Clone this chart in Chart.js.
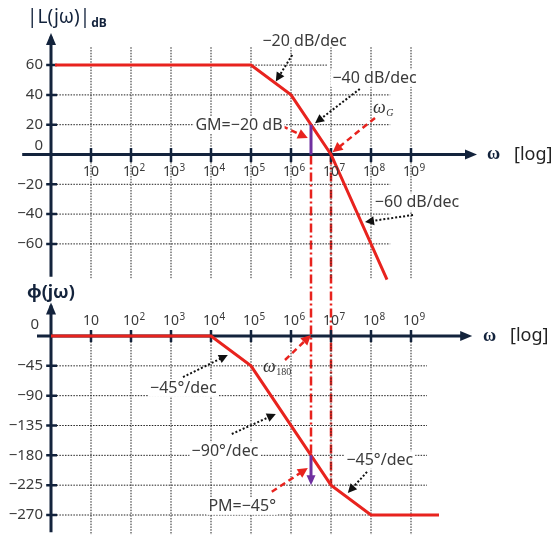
<!DOCTYPE html>
<html>
<head>
<meta charset="utf-8">
<script src="https://cdn.jsdelivr.net/npm/chart.js@4/dist/chart.umd.min.js"></script>
<style>
  html, body { margin: 0; padding: 0; background: #fff; }
  canvas { display: block; }
</style>
</head>
<body>
<canvas id="bode" width="553" height="535"></canvas>
<script>
// ---- frequency decades (log10 ω) and tick labels ----
const decades = [1, 2, 3, 4, 5, 6, 7, 8, 9];
const decadeExponents = ['', '2', '3', '4', '5', '6', '7', '8', '9'];
const magTicks = [60, 40, 20, 0, -20, -40, -60];
const phaseTicks = [0, -45, -90, -135, -180, -225, -270];

// ---- asymptotic magnitude |L(jω)| in dB ----
const magLogW = [0.1, 5, 6, 7, 8.4];
const magDb = [60, 60, 40, 0, -84];

// ---- asymptotic phase φ(jω) in degrees ----
const phaseLogW = [0, 4, 5, 7, 8, 9.7];
const phaseDeg = [0, 0, -45, -225, -270, -270];

// ---- crossover frequencies and stability margins ----
const logW180 = 6.5;       // phase crossover ω180
const logWG = 7;           // gain crossover ωG
const gainMarginDb = -20;
const phaseMarginDeg = -45;

// ---- page geometry: where each scale sits on the canvas ----
const W = 553, H = 535;
const X0 = 51, PX_PER_DEC = 40;
const MAG0 = 154.5, PX_PER_DB = 1.49;
const PH0 = 336, PX_PER_DEG = 0.663;

const NAVY = '#13233c';
const RED = '#e8231e';
const PURPLE = '#7030a0';
const GRID = '#222';
const TEXT = '#3b3b3b';
const FONT = '"Noto Sans", "Liberation Sans", sans-serif';
const SERIF = '"Liberation Serif", "DejaVu Serif", serif';

// turn [x1,y1,x2,y2] segments into one broken polyline
function segs(list) {
  const out = [];
  list.forEach(([x1, y1, x2, y2]) => {
    out.push({x: x1, y: y1}, {x: x2, y: y2}, {x: x2, y: null});
  });
  return out;
}
const zip = (xs, ys) => xs.map((x, i) => ({x, y: ys[i]}));

const magNonZero = magTicks.filter(v => v !== 0);
const phNonZero = phaseTicks.filter(v => v !== 0);

const gridStyle = {borderColor: GRID, borderWidth: 1, borderDash: [1.5, 1.3], pointRadius: 0, spanGaps: false, order: 20};
const axisStyle = {borderColor: NAVY, borderWidth: 3, pointRadius: 0, spanGaps: false, order: 5};

const datasets = [
  // magnitude curve
  {data: zip(magLogW, magDb), yAxisID: 'yMag', borderColor: RED, borderWidth: 3, pointRadius: 0, order: 1},
  // phase curve
  {data: zip(phaseLogW, phaseDeg), yAxisID: 'yPh', borderColor: RED, borderWidth: 3, pointRadius: 0, order: 1},
  // gain margin bar at ω180
  {data: [{x: logW180, y: -gainMarginDb}, {x: logW180, y: 0}], yAxisID: 'yMag', borderColor: PURPLE, borderWidth: 3, pointRadius: 0, order: 0},
  // phase margin arrow at ωG
  {data: [{x: logW180, y: -180}, {x: logW180, y: -180 + phaseMarginDeg + 6}], yAxisID: 'yPh', borderColor: PURPLE, borderWidth: 3, pointRadius: 0, order: 0},

  // grids
  Object.assign({data: segs(decades.map(d => [d, 72, d, -83])), yAxisID: 'yMag'}, gridStyle),
  Object.assign({data: segs(magNonZero.map(v => [0, v, v === 60 ? 6.9 : 8.48, v])), yAxisID: 'yMag'}, gridStyle),
  Object.assign({data: segs(decades.map(d => [d, 0, d, -300])), yAxisID: 'yPh'}, gridStyle),
  Object.assign({data: segs(phNonZero.map(v => [0, v, 9.4, v])), yAxisID: 'yPh'}, gridStyle),

  // axes
  Object.assign({data: segs([[-0.72, 0, 10.45, 0], [0, 79, 0, -82]]), yAxisID: 'yMag'}, axisStyle),
  Object.assign({data: segs([[-0.35, 0, 10.35, 0], [0, 46, 0, -296]]), yAxisID: 'yPh'}, axisStyle),
  // tick marks
  Object.assign({data: segs(magNonZero.map(v => [-0.12, v, 0.15, v]).concat(decades.map(d => [d, 4.4, d, -5]))), yAxisID: 'yMag'}, axisStyle, {borderWidth: 2.5}),
  Object.assign({data: segs(phNonZero.map(v => [-0.12, v, 0.15, v]).concat(decades.map(d => [d, 9, d, -9]))), yAxisID: 'yPh'}, axisStyle, {borderWidth: 2.5})
];

// annotation callouts, positioned in data units of their panel
const notes = [
  {s: 'yMag', text: '−20 dB/dec', at: [6.34, 76.2], arrow: [6.03, 66.8, 5.62, 49], kind: 'dot'},
  {s: 'yMag', text: '−40 dB/dec', at: [8.09, 51.3], arrow: [7.72, 44, 6.6, 21], kind: 'dot', bg: true},
  {s: 'yMag', text: 'GM=−20 dB', at: [4.7, 19.8], arrow: [5.78, 19, 6.42, 11], kind: 'red', bg: true},
  {s: 'yMag', text: '−60 dB/dec', at: [9.15, -31.9], arrow: [9.05, -40.6, 7.85, -45.3], kind: 'dot', bg: true},
  {s: 'yMag', arrow: [8.1, 24.5, 7.04, 1.5], kind: 'red'},
  {s: 'yPh', text: '−45°/dec', at: [3.31, -78.4], arrow: [3.3, -62, 4.42, -28.7], kind: 'dot', bg: true},
  {s: 'yPh', arrow: [5.85, -36.2, 6.5, 1.5], kind: 'red'},
  {s: 'yPh', text: '−90°/dec', at: [4.35, -173.5], arrow: [4.52, -147.8, 5.62, -117.6], kind: 'dot', bg: true},
  {s: 'yPh', text: '−45°/dec', at: [8.22, -187], arrow: [7.9, -205, 7.42, -236.8], kind: 'dot', bg: true},
  {s: 'yPh', text: 'PM=−45°', at: [4.78, -256.4], arrow: [5.52, -235, 6.42, -199], kind: 'red', bg: true}
];

function arrowHead(ctx, x1, y1, x2, y2, color, len, half) {
  const a = Math.atan2(y2 - y1, x2 - x1);
  ctx.save();
  ctx.setLineDash([]);
  ctx.fillStyle = color;
  ctx.beginPath();
  ctx.moveTo(x2, y2);
  ctx.lineTo(x2 - len * Math.cos(a) + half * Math.sin(a), y2 - len * Math.sin(a) - half * Math.cos(a));
  ctx.lineTo(x2 - len * Math.cos(a) - half * Math.sin(a), y2 - len * Math.sin(a) + half * Math.cos(a));
  ctx.closePath();
  ctx.fill();
  ctx.restore();
}

function arrow(ctx, x1, y1, x2, y2, kind) {
  const red = kind === 'red';
  const color = red ? RED : '#111';
  const len = red ? 10 : 9;
  const a = Math.atan2(y2 - y1, x2 - x1);
  ctx.save();
  ctx.strokeStyle = color;
  ctx.lineWidth = red ? 2.5 : 2;
  ctx.setLineDash(red ? [6, 4] : [2, 2]);
  ctx.beginPath();
  ctx.moveTo(x1, y1);
  ctx.lineTo(x2 - len * 0.8 * Math.cos(a), y2 - len * 0.8 * Math.sin(a));
  ctx.stroke();
  ctx.restore();
  arrowHead(ctx, x1, y1, x2, y2, color, len, red ? 5 : 4.5);
}

function label(ctx, text, x, y, size, bg) {
  ctx.save();
  ctx.font = size + 'px ' + FONT;
  ctx.textAlign = 'center';
  ctx.textBaseline = 'middle';
  if (bg) {
    const w = ctx.measureText(text).width;
    ctx.fillStyle = '#fff';
    ctx.fillRect(x - w / 2 - 2, y - size * 0.55, w + 4, size * 1.1);
  }
  ctx.fillStyle = TEXT;
  ctx.fillText(text, x, y);
  ctx.restore();
}

// omega symbol with a subscript
function omegaSub(ctx, sub, x, y, subItalic) {
  ctx.save();
  ctx.fillStyle = '#333';
  ctx.textBaseline = 'middle';
  ctx.textAlign = 'left';
  ctx.font = 'italic 18px ' + SERIF;
  ctx.fillText('ω', x, y);
  const w = ctx.measureText('ω').width;
  ctx.font = (subItalic ? 'italic ' : '') + '10px ' + SERIF;
  ctx.fillText(sub, x + w + 0.5, y + 5);
  ctx.restore();
}

const bodeDecor = {
  id: 'bodeDecor',
  beforeDatasetsDraw(chart) {
    const ctx = chart.ctx;
    const xs = chart.scales.x, ym = chart.scales.yMag, yp = chart.scales.yPh;
    // dash-dot drop lines from the magnitude panel to the phase panel
    ctx.save();
    ctx.strokeStyle = RED;
    ctx.lineWidth = 2.5;
    ctx.setLineDash([9, 3, 2, 3]);
    [[logW180, -180], [logWG, -225]].forEach(([lw, ph]) => {
      const x = xs.getPixelForValue(lw);
      ctx.beginPath();
      ctx.moveTo(x, ym.getPixelForValue(0) + 1);
      ctx.lineTo(x, yp.getPixelForValue(ph));
      ctx.stroke();
    });
    ctx.restore();
  },
  afterDatasetsDraw(chart) {
    const ctx = chart.ctx;
    const xs = chart.scales.x, ym = chart.scales.yMag, yp = chart.scales.yPh;
    const X = v => xs.getPixelForValue(v);

    // axis arrowheads
    arrowHead(ctx, X(0), ym.getPixelForValue(0), X(10.65), ym.getPixelForValue(0), NAVY, 12, 5);
    arrowHead(ctx, X(0), ym.getPixelForValue(0), X(0), ym.getPixelForValue(81.5), NAVY, 12, 5);
    arrowHead(ctx, X(0), yp.getPixelForValue(0), X(10.53), yp.getPixelForValue(0), NAVY, 12, 5);
    arrowHead(ctx, X(0), yp.getPixelForValue(0), X(0), yp.getPixelForValue(50.5), NAVY, 12, 5);
    // phase margin arrow tip
    arrowHead(ctx, X(logW180), yp.getPixelForValue(-180), X(logW180), yp.getPixelForValue(-180 + phaseMarginDeg), PURPLE, 10, 4.5);

    // y tick labels
    ctx.save();
    ctx.fillStyle = TEXT;
    ctx.font = '15px ' + FONT;
    ctx.textAlign = 'right';
    ctx.textBaseline = 'middle';
    magTicks.forEach(v => {
      const y = ym.getPixelForValue(v);
      if (v === 0) ctx.fillText('0', X(-0.2), y - 9);
      else ctx.fillText(String(v).replace('-', '−'), X(-0.2), y);
    });
    phaseTicks.forEach(v => {
      const y = yp.getPixelForValue(v);
      if (v === 0) ctx.fillText('0', X(-0.3), y - 11);
      else ctx.fillText(String(v).replace('-', '−'), X(-0.2), y);
    });

    // decade labels
    const decadeRow = (yy) => {
      decades.forEach((d, i) => {
        const x = X(d);
        ctx.font = '14px ' + FONT;
        ctx.textAlign = 'center';
        ctx.fillText('10', x, yy);
        const w = ctx.measureText('10').width;
        if (decadeExponents[i]) {
          ctx.font = '10px ' + FONT;
          ctx.textAlign = 'left';
          ctx.fillText(decadeExponents[i], x + w / 2 + 0.5, yy - 4);
        }
      });
    };
    decadeRow(ym.getPixelForValue(0) + 18);
    decadeRow(yp.getPixelForValue(0) - 15);
    ctx.restore();

    // axis titles
    ctx.save();
    ctx.fillStyle = NAVY;
    ctx.textBaseline = 'middle';
    ctx.textAlign = 'left';
    ctx.font = '19px ' + FONT;
    ctx.fillText('|L(jω)|', 27, ym.getPixelForValue(92));
    let w = ctx.measureText('|L(jω)|').width;
    ctx.font = 'bold 12px ' + FONT;
    ctx.fillText('dB', 27 + w + 1, ym.getPixelForValue(92) + 6);
    ctx.font = 'bold 18px ' + FONT;
    ctx.fillText('ϕ(jω)', 27, yp.getPixelForValue(65));

    [[ym, 10.9], [yp, 10.8]].forEach(([sc, lw]) => {
      const y = sc.getPixelForValue(0);
      ctx.font = 'bold 18px ' + SERIF;
      ctx.fillText('ω', X(lw), y);
      ctx.font = '18px ' + FONT;
      ctx.fillStyle = '#222';
      ctx.fillText('[log]', X(lw) + 27, y);
      ctx.fillStyle = NAVY;
    });
    ctx.restore();

    // callouts
    notes.forEach(n => {
      const sc = chart.scales[n.s];
      const [ax1, ay1, ax2, ay2] = n.arrow;
      arrow(ctx, X(ax1), sc.getPixelForValue(ay1), X(ax2), sc.getPixelForValue(ay2), n.kind);
      if (n.text) label(ctx, n.text, X(n.at[0]), sc.getPixelForValue(n.at[1]), 16, n.bg);
    });
    omegaSub(ctx, 'G', X(8.05), ym.getPixelForValue(31), true);
    omegaSub(ctx, '180', X(5.3), yp.getPixelForValue(-47), false);
  }
};

new Chart(document.getElementById('bode'), {
  type: 'line',
  data: {datasets},
  options: {
    responsive: false,
    animation: false,
    events: [],
    layout: {padding: 0},
    plugins: {legend: {display: false}, tooltip: {enabled: false}},
    elements: {line: {tension: 0, borderCapStyle: 'butt'}, point: {radius: 0}},
    scales: {
      x: {type: 'linear', display: false, min: -X0 / PX_PER_DEC, max: (W - X0) / PX_PER_DEC},
      yMag: {type: 'linear', display: false, min: (MAG0 - H) / PX_PER_DB, max: MAG0 / PX_PER_DB},
      yPh: {type: 'linear', display: false, min: (PH0 - H) / PX_PER_DEG, max: PH0 / PX_PER_DEG}
    }
  },
  plugins: [bodeDecor]
});
</script>
</body>
</html>
